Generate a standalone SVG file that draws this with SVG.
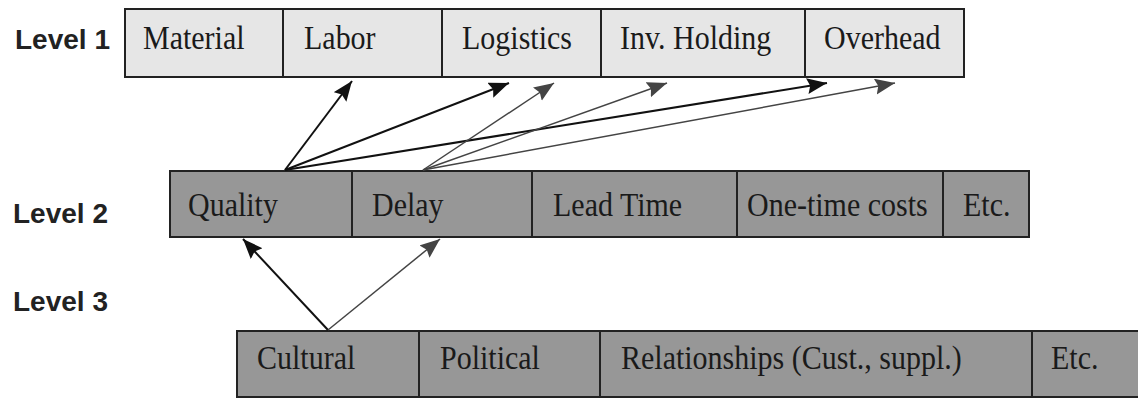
<svg xmlns="http://www.w3.org/2000/svg" width="1138" height="398" viewBox="0 0 1138 398">
<defs>
<style>
.lvl{font-family:"Liberation Sans",Arial,sans-serif;font-weight:bold;font-size:28px;fill:#222}
.t{font-family:"Liberation Serif","Times New Roman",serif;font-size:30px;fill:#1a1a1a}
.l1{fill:#e6e6e6;stroke:#222;stroke-width:2}
.l2{fill:#979797;stroke:#222;stroke-width:2}
.dv{stroke:#222;stroke-width:2}
.ad{stroke:#111;stroke-width:2;fill:none;marker-end:url(#hd)}
.ag{stroke:#444;stroke-width:1.5;fill:none;marker-end:url(#hg)}
</style>
<marker id="hd" markerUnits="userSpaceOnUse" markerWidth="22" markerHeight="18" refX="20" refY="8" orient="auto"><path d="M0,0 L20,8 L0,16 L3,8 z" fill="#111"/></marker>
<marker id="hg" markerUnits="userSpaceOnUse" markerWidth="22" markerHeight="18" refX="20" refY="8" orient="auto"><path d="M0,0 L20,8 L0,16 L3,8 z" fill="#444"/></marker>
</defs>
<rect width="1138" height="398" fill="#fff"/>
<g id="labels">
<text class="lvl" x="15" y="49">Level 1</text>
<text class="lvl" x="13" y="223">Level 2</text>
<text class="lvl" x="13" y="311">Level 3</text>
</g>
<g id="level1">
<rect class="l1" x="125" y="9" width="839" height="68"/>
<line class="dv" x1="283" y1="9" x2="283" y2="77"/>
<line class="dv" x1="442" y1="9" x2="442" y2="77"/>
<line class="dv" x1="601" y1="9" x2="601" y2="77"/>
<line class="dv" x1="805" y1="9" x2="805" y2="77"/>
<g id="n-material"><text class="t" transform="translate(143,49) scale(1,1.14)">Material</text></g>
<g id="n-labor"><text class="t" transform="translate(304,49) scale(1,1.14)">Labor</text></g>
<g id="n-logistics"><text class="t" transform="translate(462,49) scale(1,1.14)">Logistics</text></g>
<g id="n-inv"><text class="t" transform="translate(620,49) scale(1,1.14)">Inv. Holding</text></g>
<g id="n-overhead"><text class="t" transform="translate(824,49) scale(1,1.14)">Overhead</text></g>
</g>
<g id="level2">
<rect class="l2" x="170" y="171" width="859" height="66"/>
<line class="dv" x1="352" y1="171" x2="352" y2="237"/>
<line class="dv" x1="532" y1="171" x2="532" y2="237"/>
<line class="dv" x1="737" y1="171" x2="737" y2="237"/>
<line class="dv" x1="943" y1="171" x2="943" y2="237"/>
<g id="n-quality"><text class="t" transform="translate(188,216) scale(1,1.14)">Quality</text></g>
<g id="n-delay"><text class="t" transform="translate(372,216) scale(1,1.14)">Delay</text></g>
<g id="n-leadtime"><text class="t" transform="translate(553,216) scale(1,1.14)">Lead Time</text></g>
<g id="n-onetime"><text class="t" transform="translate(747,216) scale(1,1.14)">One-time costs</text></g>
<g id="n-etc2"><text class="t" transform="translate(963,216) scale(1,1.14)">Etc.</text></g>
</g>
<g id="level3">
<rect class="l2" x="237" y="331" width="905" height="66"/>
<line class="dv" x1="419" y1="331" x2="419" y2="397"/>
<line class="dv" x1="600" y1="331" x2="600" y2="397"/>
<line class="dv" x1="1032" y1="331" x2="1032" y2="397"/>
<g id="n-cultural"><text class="t" transform="translate(257,369) scale(1,1.14)">Cultural</text></g>
<g id="n-political"><text class="t" transform="translate(440,369) scale(1,1.14)">Political</text></g>
<g id="n-relationships"><text class="t" transform="translate(621,369) scale(1,1.14)">Relationships (Cust., suppl.)</text></g>
<g id="n-etc3"><text class="t" transform="translate(1051,369) scale(1,1.14)">Etc.</text></g>
</g>
<g id="connectors">
<line class="ad" x1="285" y1="170" x2="352" y2="81"/>
<line class="ad" x1="285" y1="170" x2="509" y2="83"/>
<line class="ad" x1="285" y1="170" x2="827" y2="83"/>
<line class="ag" x1="423" y1="170" x2="554" y2="83"/>
<line class="ag" x1="423" y1="170" x2="667" y2="83"/>
<line class="ag" x1="423" y1="170" x2="895" y2="83"/>
<line class="ad" x1="328" y1="330" x2="243" y2="239"/>
<line class="ag" x1="328" y1="330" x2="440" y2="239"/>
</g>
</svg>
